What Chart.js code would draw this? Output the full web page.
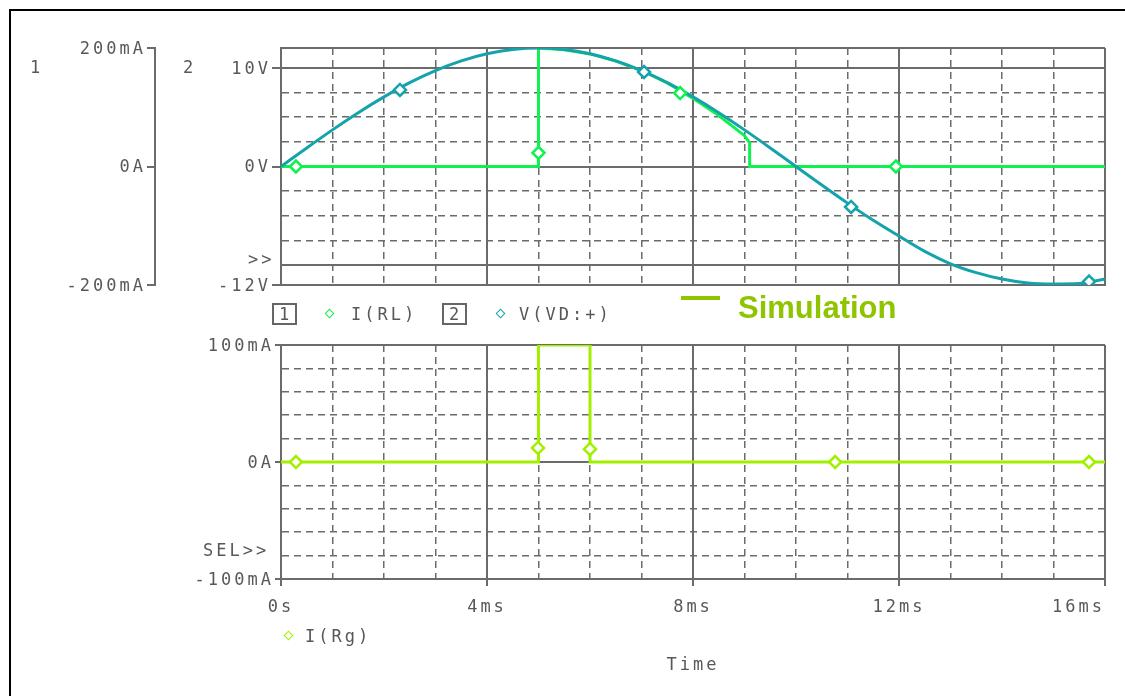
<!DOCTYPE html>
<html>
<head>
<meta charset="utf-8">
<script src="https://cdn.jsdelivr.net/npm/chart.js@4.4.1/dist/chart.umd.min.js"></script>
<style>
  html, body { margin: 0; padding: 0; background: #fff; }
  #wrap { position: relative; width: 1125px; height: 696px; overflow: hidden; background: #fff; }
  #wrap canvas { position: absolute; left: 0; }
  .frame { position: absolute; left: 9px; top: 9px; width: 1200px; height: 800px; border-left: 2px solid #000; border-top: 2px solid #000; }
  .t { position: absolute; font-family: "DejaVu Sans Mono", "Liberation Mono", monospace; font-size: 17px; line-height: 18px;
       letter-spacing: 3px; color: #585858; white-space: nowrap; }
  .box { position: absolute; width: 19px; height: 18px; border: 2px solid #666; text-align: center; padding-left: 2px; box-sizing: content-box; }
  .dia { position: absolute; width: 5px; height: 5px; border: 1.5px solid; background: #fff; transform: rotate(45deg); }
  .sim-line { position: absolute; left: 681px; top: 296px; width: 39px; height: 4px; background: #8fc400; }
  .sim { position: absolute; left: 738px; top: 290px; font: bold 31px "Liberation Sans", Arial, sans-serif; color: #8fc400; }
</style>
</head>
<body>
<div id="wrap">
  <canvas id="topPlot" width="1125" height="300" style="top:0"></canvas>
  <canvas id="bottomPlot" width="1125" height="396" style="top:300px"></canvas>
  <div class="frame"></div>

  <span class="t" style="left:30px; top:58px">1</span>
  <span class="t" style="left:183px; top:58px">2</span>
  <span class="t" style="left:248px; top:250px">&gt;&gt;</span>
  <span class="t" style="left:203px; top:541px">SEL&gt;&gt;</span>

  <!-- legend of the top plot -->
  <span class="t box" style="left:272px; top:303px">1</span>
  <span class="dia" style="left:326px; top:310px; border-color:#10f050"></span>
  <span class="t" style="left:351px; top:305px">I(RL)</span>
  <span class="t box" style="left:442px; top:303px">2</span>
  <span class="dia" style="left:497px; top:310px; border-color:#15a3ab"></span>
  <span class="t" style="left:519px; top:305px">V(VD:+)</span>
  <div class="sim-line"></div>
  <span class="sim">Simulation</span>

  <!-- legend of the bottom plot -->
  <span class="dia" style="left:285px; top:632px; border-color:#a2f000"></span>
  <span class="t" style="left:305px; top:627px">I(Rg)</span>
</div>

<script>
// --- data (time in ms) ---
const timeMs = [0, 0.5, 1, 1.5, 2, 2.5, 3, 3.5, 4, 4.5, 5, 5.5, 6, 6.5, 7, 7.5, 8,
  8.5, 9, 9.5, 10, 10.5, 11, 11.5, 12, 12.5, 13, 13.5, 14, 14.5, 15, 15.5, 16];
const vdVolts = [0, 1.88, 3.71, 5.45, 7.05, 8.49, 9.71, 10.69, 11.41, 11.85, 12, 11.85, 11.41, 10.69, 9.71, 8.49, 7.05,
  5.45, 3.71, 1.88, 0, -1.88, -3.71, -5.45, -7.05, -8.6, -9.85, -10.75, -11.4, -11.8, -11.9, -11.85, -11.4];

const rlTime = [0, 5, 5, 5.5, 6, 6.5, 7, 7.5, 8, 8.5, 9, 9.1, 9.1, 16];
const rlCurrent = [0, 0, 200, 197, 190, 178, 162, 141, 115, 86, 52, 40, 0, 0];

const rgTime = [0, 5, 5, 6, 6, 16];
const rgCurrent = [0, 0, 100, 100, 0, 0];

// marker symbols along the traces
const vdMarkT = [2.31, 7.05, 11.07, 15.69];
const vdMarkV = [7.75, 9.57, -4.1, -11.65];
const rlMarkT = [0.29, 5.0, 7.75, 11.94];
const rlMarkI = [0, 23, 124, 0];
const rgMarkT = [0.29, 4.99, 6.0, 10.76, 15.69];
const rgMarkI = [0, 12, 11, 0, 0];

// axes
const timeTicks = [0, 1, 2, 3, 4, 5, 6, 7, 8, 9, 10, 11, 12, 13, 14, 15, 16];
const majorTimes = [0, 4, 8, 12, 16];
const majorTimeLabels = ['0s', '4ms', '8ms', '12ms', '16ms'];

const voltTicks = [-12, -10, -7.5, -5, -2.5, 0, 2.5, 5, 7.5, 10, 12];
const voltSolid = [-12, -10, 0, 10, 12];
const voltLabelAt = [10, 0, -12];
const voltLabels = ['10V', '0V', '-12V'];

const rlTicks = [-200, 0, 200];
const rlLabels = ['-200mA', '0A', '200mA'];

const rgTicks = [-100, -80, -60, -40, -20, 0, 20, 40, 60, 80, 100];
const rgSolid = [-100, 0, 100];
const rgLabels = ['-100mA', '0A', '100mA'];

const GRID = '#6b6b6b';
const TXT = '#585858';
const MONO = '"DejaVu Sans Mono", "Liberation Mono", monospace';
const DASH = [7, 5];
const C_RL = '#10f050';
const C_VD = '#15a3ab';
const C_RG = '#a2f000';

const tickFont = { family: MONO, size: 17, lineHeight: 1 };
const clear = 'rgba(0,0,0,0)';

// PSpice text is wide, spread the letters a bit
const spacing = {
  id: 'spacing',
  beforeUpdate(chart) { chart.ctx.letterSpacing = '3px'; },
  beforeDraw(chart) { chart.ctx.letterSpacing = '3px'; }
};

const pts = (xs, ys) => xs.map((x, i) => ({ x, y: ys[i] }));
const tickVal = c => (c.tick ? c.tick.value : null);
const setTicks = list => s => { s.ticks = list.map(value => ({ value })); };
const labelFor = (at, text) => v => { const i = at.indexOf(v); return i < 0 ? '' : text[i]; };

function timeAxis(withLabels) {
  return {
    type: 'linear', min: 0, max: 16,
    afterBuildTicks: setTicks(timeTicks),
    afterFit: s => { s.height = withLabels ? 100 : 0; s.paddingLeft = 0; s.paddingRight = 0; },
    grid: {
      color: GRID,
      lineWidth: c => (majorTimes.includes(tickVal(c)) ? 2 : 1.5),
      drawTicks: withLabels,
      tickLength: 7,
      tickWidth: 2,
      tickColor: c => (majorTimes.includes(tickVal(c)) ? GRID : clear)
    },
    border: { color: GRID, width: 2, dash: c => (c.tick && !majorTimes.includes(c.tick.value) ? DASH : []) },
    ticks: {
      display: withLabels, autoSkip: false, maxRotation: 0, padding: 13, color: TXT, font: tickFont,
      callback: v => {
        const i = majorTimes.indexOf(v);
        if (i < 0) return '';
        // last label sits inside the right edge
        return i === majorTimes.length - 1 ? majorTimeLabels[i] + '    ' : majorTimeLabels[i];
      }
    },
    title: { display: withLabels, text: 'Time', color: TXT, font: tickFont, padding: { top: 0, bottom: 5 } }
  };
}

function valueAxis(o) {
  return {
    type: 'linear', position: 'left', min: o.min, max: o.max, weight: o.weight,
    afterBuildTicks: setTicks(o.ticks),
    afterFit: s => { s.width = o.width; },
    grid: {
      drawOnChartArea: o.onArea,
      color: GRID,
      lineWidth: c => (o.solid.includes(tickVal(c)) ? 2 : 1.5),
      tickLength: o.tickLength,
      tickWidth: 2,
      tickColor: c => (o.labelAt.includes(tickVal(c)) ? GRID : clear)
    },
    border: { color: GRID, width: 2, dash: c => (c.tick && !o.solid.includes(c.tick.value) ? DASH : []) },
    ticks: { autoSkip: false, padding: o.pad, labelOffset: 1.5, color: TXT, font: tickFont, callback: labelFor(o.labelAt, o.labels) }
  };
}

function markers(xs, ys, color, axis) {
  return {
    data: pts(xs, ys), yAxisID: axis, showLine: false,
    pointStyle: 'rectRot', pointRadius: 6, pointBorderWidth: 2.5,
    pointBorderColor: color, pointBackgroundColor: '#fff'
  };
}

const common = {
  responsive: false,
  animation: false,
  events: [],
  plugins: { legend: { display: false }, tooltip: { enabled: false } }
};

new Chart(document.getElementById('topPlot'), {
  type: 'line',
  data: {
    datasets: [
      markers(vdMarkT, vdMarkV, C_VD, 'yV'),
      markers(rlMarkT, rlMarkI, C_RL, 'yI'),
      { data: pts(timeMs, vdVolts), yAxisID: 'yV', borderColor: C_VD, borderWidth: 3, pointRadius: 0, cubicInterpolationMode: 'monotone' },
      { data: pts(rlTime, rlCurrent), yAxisID: 'yI', borderColor: C_RL, borderWidth: 3, pointRadius: 0 }
    ]
  },
  options: {
    ...common,
    layout: { padding: { left: 0, top: 48, right: 20, bottom: 15 } },
    scales: {
      x: timeAxis(false),
      yI: valueAxis({ min: -200, max: 200, weight: 10, width: 155, ticks: rlTicks, solid: rlTicks,
        labelAt: rlTicks, labels: rlLabels, onArea: false, tickLength: 8, pad: 1 }),
      yV: valueAxis({ min: -12, max: 12, weight: 0, width: 126, ticks: voltTicks, solid: voltSolid,
        labelAt: voltLabelAt, labels: voltLabels, onArea: true, tickLength: 9, pad: 1 })
    }
  },
  plugins: [spacing]
});

new Chart(document.getElementById('bottomPlot'), {
  type: 'line',
  data: {
    datasets: [
      markers(rgMarkT, rgMarkI, C_RG, 'yR'),
      { data: pts(rgTime, rgCurrent), yAxisID: 'yR', borderColor: C_RG, borderWidth: 3, pointRadius: 0 }
    ]
  },
  options: {
    ...common,
    layout: { padding: { left: 0, top: 45, right: 20, bottom: 17 } },
    scales: {
      x: timeAxis(true),
      yR: valueAxis({ min: -100, max: 100, weight: 0, width: 281, ticks: rgTicks, solid: rgSolid,
        labelAt: rgSolid, labels: rgLabels, onArea: true, tickLength: 6, pad: 1 })
    }
  },
  plugins: [spacing]
});
</script>
</body>
</html>
